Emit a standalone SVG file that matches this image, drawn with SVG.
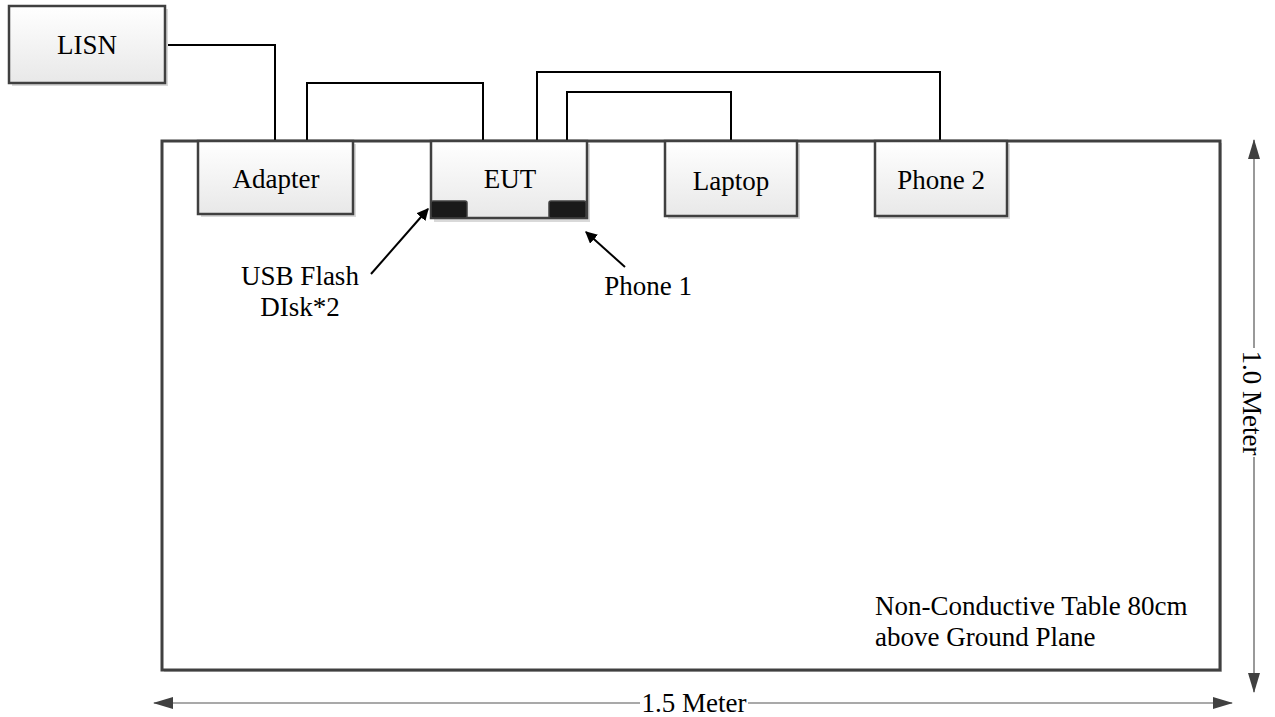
<svg xmlns="http://www.w3.org/2000/svg" width="1275" height="717" viewBox="0 0 1275 717">
<defs>
<linearGradient id="g" x1="0" y1="0" x2="0" y2="1">
<stop offset="0" stop-color="#ffffff"/>
<stop offset="1" stop-color="#e8e8e8"/>
</linearGradient>
<marker id="ah" viewBox="0 0 10 10" refX="9" refY="5" markerWidth="12" markerHeight="12" markerUnits="userSpaceOnUse" orient="auto">
<path d="M0,0 L10,5 L0,10 z" fill="#000"/>
</marker>
<marker id="dh" viewBox="0 0 20 12" refX="19" refY="6" markerWidth="20" markerHeight="12" markerUnits="userSpaceOnUse" orient="auto">
<path d="M0,0 L20,6 L0,12 z" fill="#404040"/>
</marker>
</defs>
<style>
.box{fill:url(#g);stroke:#404040;stroke-width:2.5}
.sh{fill:#d9d9d9}
.t{font-family:"Liberation Serif","Times New Roman",serif;font-size:27px;fill:#000}
.c{fill:none;stroke:#000;stroke-width:2}
.dim{fill:none;stroke:#555;stroke-width:1.2}
.port{fill:#1a1a1a;stroke:#404040;stroke-width:1.5}
</style>
<g id="table">
<rect x="164" y="143" width="1058" height="529" fill="#cccccc"/>
<rect x="162" y="141" width="1058" height="529" fill="#ffffff" stroke="#404040" stroke-width="3"/>
<text class="t" x="875" y="615">Non-Conductive Table 80cm</text>
<text class="t" x="875" y="646">above Ground Plane</text>
</g>
<g id="connectors">
<polyline class="c" points="165,45 275,45 275,141"/>
<polyline class="c" points="307,141 307,83 483,83 483,141"/>
<polyline class="c" points="537,141 537,72 940,72 940,141"/>
<polyline class="c" points="567,141 567,92 731,92 731,141"/>
<line class="c" x1="371" y1="274" x2="428" y2="209" marker-end="url(#ah)"/>
<line class="c" x1="625" y1="267" x2="586" y2="232" marker-end="url(#ah)"/>
</g>
<g id="lisn">
<rect class="sh" x="12" y="9" width="156" height="77"/>
<rect class="box" x="9" y="6" width="156" height="77"/>
<text class="t" x="87" y="54" text-anchor="middle">LISN</text>
</g>
<g id="adapter">
<rect class="sh" x="201" y="144" width="155" height="73"/>
<rect class="box" x="198" y="141" width="155" height="73"/>
<text class="t" x="276" y="188" text-anchor="middle">Adapter</text>
</g>
<g id="eut">
<rect class="sh" x="434" y="144" width="156" height="78"/>
<rect class="box" x="431" y="141" width="156" height="77"/>
<text class="t" x="510" y="188" text-anchor="middle">EUT</text>
<rect class="port" x="431" y="201" width="36" height="17" rx="2"/>
<rect class="port" x="549" y="201" width="37" height="17" rx="2"/>
</g>
<g id="laptop">
<rect class="sh" x="668" y="144" width="132" height="75"/>
<rect class="box" x="665" y="141" width="132" height="75"/>
<text class="t" x="731" y="190" text-anchor="middle">Laptop</text>
</g>
<g id="phone2">
<rect class="sh" x="878" y="144" width="132" height="75"/>
<rect class="box" x="875" y="141" width="132" height="75"/>
<text class="t" x="941" y="189" text-anchor="middle">Phone 2</text>
</g>
<g id="labels">
<text class="t" x="300" y="285" text-anchor="middle">USB Flash</text>
<text class="t" x="300" y="316" text-anchor="middle">DIsk*2</text>
<text class="t" x="648" y="295" text-anchor="middle">Phone 1</text>
</g>
<g id="dimensions">
<line class="dim" x1="1254" y1="348" x2="1254" y2="140" marker-end="url(#dh)"/>
<line class="dim" x1="1254" y1="457" x2="1254" y2="692" marker-end="url(#dh)"/>
<text class="t" transform="translate(1243,403) rotate(90)" text-anchor="middle">1.0 Meter</text>
<line class="dim" x1="640" y1="703" x2="154" y2="703" marker-end="url(#dh)"/>
<line class="dim" x1="748" y1="703" x2="1232" y2="703" marker-end="url(#dh)"/>
<text class="t" x="694" y="712" text-anchor="middle">1.5 Meter</text>
</g>
</svg>
